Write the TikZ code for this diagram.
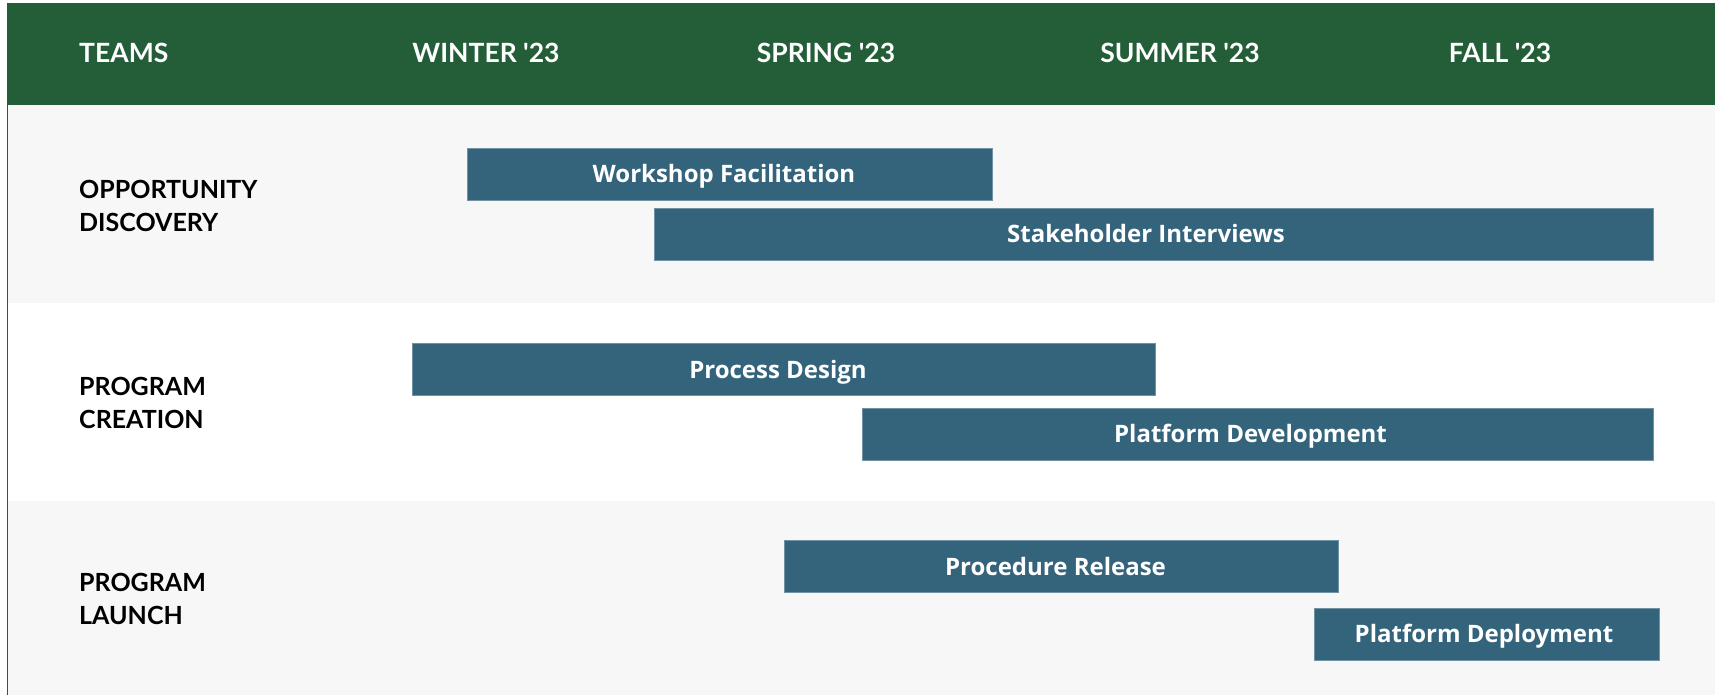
\documentclass[tikz,border=0pt]{standalone}
\usepackage{fontspec}
\newfontfamily\headfont{Lato}
\newfontfamily\barfont{Open Sans}
\definecolor{hdrgreen}{HTML}{245E38}
\definecolor{barblue}{HTML}{34637C}
\definecolor{rowgray}{HTML}{F7F7F7}
\newcommand{\barpad}{\hspace*{11pt}}
\tikzset{
  hdr/.style={text=white, font=\headfont\bfseries\fontsize{26.5}{26.5}\selectfont, inner sep=0pt, text height=19pt, text depth=0pt},
  team/.style={text=black, font=\headfont\bfseries\fontsize{25}{33}\selectfont, inner sep=0pt, align=left, anchor=west},
  bar/.style={fill=barblue, draw=barblue!70!white, line width=0.6pt, text=white, inner sep=0pt,
     minimum height=52pt, text height=17pt, text depth=0pt,
     font=\barfont\bfseries\fontsize{24}{24}\selectfont}
}
\begin{document}
\begin{tikzpicture}[x=1pt,y=-1pt]
\useasboundingbox (0,0) rectangle (1715,695);
\fill[white] (0,0) rectangle (1715,695);
% rows
\fill[rowgray] (7,105) rectangle (1715,303);
\fill[white] (7,303) rectangle (1715,501);
\fill[rowgray] (7,501) rectangle (1715,695);
% header
\fill[hdrgreen] (7,3) rectangle (1715,105);
\draw[hdrgreen, line width=1.2pt] (7.5,3) -- (7.5,695);
% header labels
\node[hdr, anchor=west] (teams) at (79,53) {TEAMS};
\node[hdr] (winter) at (486,53) {WINTER '23};
\node[hdr] (spring) at (826,53) {SPRING '23};
\node[hdr] (summer) at (1180,53) {SUMMER '23};
\node[hdr] (fall) at (1500,53) {FALL '23};
% team labels
\node[team] (opp) at (79,206) {OPPORTUNITY\\DISCOVERY};
\node[team] (crea) at (79,403) {PROGRAM\\CREATION};
\node[team] (launch) at (79,599) {PROGRAM\\LAUNCH};
% bars
\node[bar, minimum width=525pt] (wf) at (729.5,174) {Workshop Facilitation\barpad};
\node[bar, minimum width=999pt] (si) at (1153.5,234) {Stakeholder Interviews\barpad\hspace*{4pt}};
\node[bar, minimum width=743pt] (pd) at (783.5,369.5) {Process Design\barpad};
\node[bar, minimum width=791pt] (pdev) at (1257.5,434) {Platform Development\barpad\hspace*{3pt}};
\node[bar, minimum width=554pt] (pr) at (1061,566.5) {Procedure Release\barpad};
\node[bar, minimum width=345pt] (pdep) at (1486.5,634) {Platform Deployment\hspace*{5pt}};
\end{tikzpicture}
\end{document}
